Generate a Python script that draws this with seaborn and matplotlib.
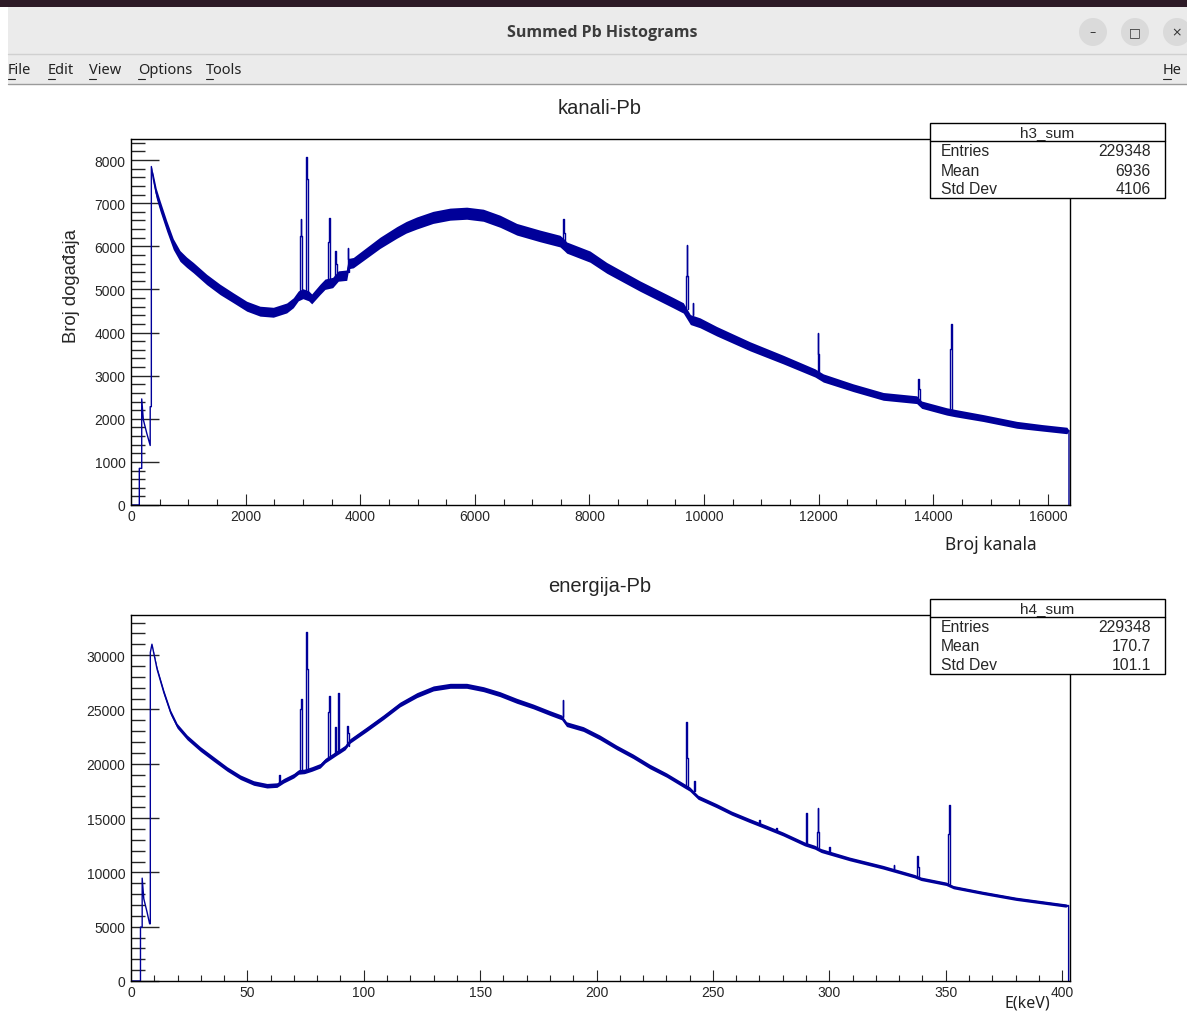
import numpy as np
import pandas as pd
import matplotlib
matplotlib.use("Agg")
import matplotlib.pyplot as plt
import seaborn as sns
from matplotlib.patches import Rectangle, Ellipse
from matplotlib.lines import Line2D
from matplotlib.ticker import MultipleLocator

# ---------------- data ----------------
# h3_sum : "kanali-Pb" (counts per channel), continuum points
kan_ch = [0, 145, 145, 187, 187, 215, 274, 335, 335, 355, 355, 390, 440, 506, 623, 738, 855,
          970, 1087, 1321, 1553, 1785, 2019, 2251, 2483, 2717, 2832, 2919, 3000, 3100, 3153,
          3298, 3385, 3519, 3617, 3764, 3800, 3879, 4112, 4345, 4636, 4800, 4985, 5270, 5566,
          5857, 6147, 6440, 6730, 7136, 7485, 7560, 7602, 8009, 8300, 8881, 9462, 9637, 9760,
          9928, 10219, 10799, 11381, 11934, 12079, 12600, 13126, 13709, 13796, 14232, 14377,
          14871, 15454, 15900, 16330, 16366, 16366]
kan_counts = [0, 0, 850, 850, 2460, 1980, 1670, 1380, 2280, 2280, 7850, 7560, 7230, 6940, 6470,
              6050, 5775, 5630, 5505, 5230, 5000, 4805, 4610, 4495, 4470, 4570, 4690, 4850, 4900,
              4850, 4780, 5000, 5120, 5160, 5310, 5330, 5600, 5620, 5850, 6080, 6320, 6440, 6540,
              6670, 6745, 6767, 6720, 6580, 6395, 6240, 6120, 6030, 5970, 5760, 5500, 5077, 4690,
              4570, 4300, 4225, 4030, 3681, 3372, 3063, 2946, 2720, 2519, 2442, 2326, 2170, 2132,
              2016, 1860, 1790, 1728, 1728, 0]
# half thickness of the noisy band around the continuum
kan_spread = [0, 0, 0, 0, 0, 0, 0, 0, 0, 0, 0, 100, 115, 125, 125, 125, 125, 120, 120, 120, 120,
              115, 115, 115, 115, 115, 115, 115, 115, 115, 115, 120, 120, 120, 120, 120, 120, 120,
              125, 130, 135, 135, 140, 140, 140, 140, 140, 140, 135, 135, 135, 135, 130, 130, 125,
              120, 120, 120, 115, 115, 110, 105, 100, 95, 95, 90, 90, 90, 85, 85, 85, 80, 80,
              75, 75, 0, 0]
# narrow peaks: start channel, base level, bin heights
kan_pk_start = [2950, 3045, 3440, 3565, 3780, 7545, 9685, 9800, 11980, 13735, 14295]
kan_pk_base = [4900, 4900, 5130, 5250, 5400, 6050, 4540, 4400, 3050, 2430, 2160]
kan_pk_heights = [[6250, 6630, 6250], [7550, 8080, 7550, 5300], [6100, 6650, 6400], [5890, 5600],
                  [5970, 5700], [6644, 6300], [5300, 6030, 5300], [4690], [3993, 3500],
                  [2930, 2700], [3610, 4202, 3610]]
kan_pk_w = 12

# h4_sum : "energija-Pb" (counts per energy bin), continuum points
en_kev = [0, 4.07, 4.07, 4.8, 4.8, 5.5, 6.9, 8.0, 8.3, 8.3, 9.0, 11.2, 14.1, 17.0, 19.8, 24.1,
          29.8, 35.5, 41.3, 47.0, 52.7, 58.4, 62.7, 65.6, 69.9, 72.0, 74.5, 77.7, 81.3, 83.5,
          86.6, 88.4, 89.9, 92.0, 94.2, 101.4, 108.5, 115.5, 122.8, 129.9, 137.1, 144.2, 151.4,
          158.5, 165.7, 172.8, 180.0, 185.0, 187.1, 194.3, 201.4, 208.6, 215.7, 222.9, 230.0,
          237.2, 240.0, 243.6, 251.5, 258.0, 265.8, 273.0, 280.1, 289.4, 293.7, 296.5, 308.7,
          323.0, 336.6, 339.4, 350.2, 353.3, 365.8, 380.2, 401.6, 402.8, 402.8]
en_counts = [0, 0, 4960, 4960, 9470, 7570, 6340, 5270, 5270, 30250, 31010, 28710, 26570, 24730,
             23500, 22430, 21360, 20440, 19520, 18760, 18230, 17980, 18040, 18440, 18900, 19250,
             19300, 19520, 19820, 20300, 20740, 21000, 21200, 21500, 22120, 23200, 24300, 25450,
             26320, 26940, 27180, 27180, 26870, 26410, 25800, 25280, 24670, 24270, 23650, 23200,
             22430, 21510, 20690, 19750, 18970, 18040, 17680, 16920, 16150, 15460, 14770, 14160,
             13540, 12620, 12320, 12010, 11240, 10480, 9650, 9410, 8950, 8640, 8120, 7570, 6950,
             6950, 0]
en_spread = [0, 0, 0, 0, 0, 0, 0, 0, 0, 0, 0, 180, 220, 220, 220, 220, 220, 220, 210, 210, 210,
             210, 210, 210, 210, 210, 210, 210, 210, 210, 210, 210, 210, 210, 210, 220, 220, 220,
             230, 230, 230, 230, 230, 230, 230, 220, 220, 220, 220, 220, 220, 210, 210, 210, 200,
             200, 200, 190, 190, 185, 185, 185, 180, 180, 180, 180, 170, 170, 160, 160, 160, 150,
             150, 150, 150, 0, 0]
en_pk_start = [63.6, 72.7, 75.0, 84.7, 87.6, 88.9, 93.0, 185.5, 238.3, 241.8, 269.9, 277.1,
               290.0, 294.7, 299.9, 327.6, 337.8, 351.1]
en_pk_base = [18100, 19300, 19300, 20500, 20900, 21100, 21600, 24270, 18000, 17500, 14400,
              13800, 12600, 12300, 11800, 10350, 9600, 8900]
en_pk_heights = [[18970], [25030, 25960, 21000], [29930, 32140, 28710], [24800, 26200, 25500],
                 [23350], [26500, 22000], [23500, 22800], [25890], [20500, 23810, 20500],
                 [18390], [14860], [14100], [15470], [13700, 15900, 13700], [12320], [10720],
                 [11550, 10500], [13540, 16210, 13540]]
en_pk_w = 0.3

stats_h3 = ["h3_sum", "229348", "6936", "4106"]
stats_h4 = ["h4_sum", "229348", "170.7", "101.1"]
stat_names = ["Entries", "Mean", "Std Dev"]

menu_items = ["File", "Edit", "View", "Options", "Tools"]
menu_x = [8, 48, 89, 138, 206]

BLUE = "#000099"
W, H = 1187, 1012

sns.set_style("white")
plt.rcParams["font.family"] = ["Liberation Sans", "DejaVu Sans"]

fig = plt.figure(figsize=(W / 100, H / 100), dpi=100)


def fx(x):
    return x / W


def fy(y):
    return 1 - y / H


def draw_hist(ax, xs, ys, spread, pk_start, pk_base, pk_heights, pk_w):
    rows = [("bg", x, y) for x, y in zip(xs, ys)]
    for i, (s, b, hs) in enumerate(zip(pk_start, pk_base, pk_heights)):
        seg = f"pk{i}"
        rows.append((seg, s, b))
        for j, h in enumerate(hs):
            rows.append((seg, s + j * pk_w, h))
            rows.append((seg, s + (j + 1) * pk_w, h))
        rows.append((seg, s + len(hs) * pk_w, b))
    df = pd.DataFrame(rows, columns=["seg", "x", "y"])
    sns.lineplot(data=df, x="x", y="y", units="seg", estimator=None, sort=False,
                 color=BLUE, linewidth=1.0, ax=ax, legend=False)
    yv = np.array(ys, dtype=float)
    sp = np.array(spread, dtype=float)
    ax.fill_between(xs, yv - sp, yv + sp, color=BLUE, linewidth=0)
    ax.set_xlabel("")
    ax.set_ylabel("")


def style_axes(ax, xmaj, xmin, ymaj, ymin):
    ax.xaxis.set_major_locator(MultipleLocator(xmaj))
    ax.xaxis.set_minor_locator(MultipleLocator(xmin))
    ax.yaxis.set_major_locator(MultipleLocator(ymaj))
    ax.yaxis.set_minor_locator(MultipleLocator(ymin))
    ax.tick_params(axis="y", which="major", direction="in", length=20, width=1,
                   pad=4, labelsize=10, left=True)
    ax.tick_params(axis="y", which="minor", direction="in", length=10, width=1, left=True)
    ax.tick_params(axis="x", which="major", direction="in", length=8, width=0.8,
                   pad=3, labelsize=10, bottom=True)
    ax.tick_params(axis="x", which="minor", direction="in", length=4, width=0.8, bottom=True)
    for s in ax.spines.values():
        s.set_color("black")
        s.set_linewidth(1)


# ---------------- top pad: kanali-Pb ----------------
ax1 = fig.add_axes([fx(131), fy(506), fx(1070) - fx(131), fy(140) - fy(506)])
draw_hist(ax1, kan_ch, kan_counts, kan_spread, kan_pk_start, kan_pk_base, kan_pk_heights, kan_pk_w)
ax1.set_xlim(0, 16384)
ax1.set_ylim(0, 8488)
style_axes(ax1, 2000, 500, 1000, 200)

# ---------------- bottom pad: energija-Pb ----------------
ax2 = fig.add_axes([fx(131), fy(982), fx(1070) - fx(131), fy(616) - fy(982)])
draw_hist(ax2, en_kev, en_counts, en_spread, en_pk_start, en_pk_base, en_pk_heights, en_pk_w)
ax2.set_xlim(0, 403.4)
ax2.set_ylim(0, 33700)
style_axes(ax2, 50, 10, 5000, 1000)

# titles and axis titles
fig.text(fx(600), fy(109), "kanali-Pb", ha="center", va="center", fontsize=14.5)
fig.text(fx(600), fy(586), "energija-Pb", ha="center", va="center", fontsize=14.5)
fig.text(fx(72), fy(286), "Broj događaja", rotation=90, ha="center", va="center", fontsize=13.3)
fig.text(fx(991), fy(545), "Broj kanala", ha="center", va="center", fontsize=12.5,
         family=["Noto Sans", "DejaVu Sans"], color="#222222")
fig.text(fx(1027), fy(1004), "E(keV)", ha="center", va="center", fontsize=11.5,
         family=["Noto Sans", "DejaVu Sans"], color="#222222")


# stats boxes
def stats_box(top, vals):
    fig.add_artist(Rectangle((fx(930), fy(top + 75)), fx(1165) - fx(930), fy(top) - fy(top + 75),
                             transform=fig.transFigure, facecolor="white", edgecolor="black",
                             linewidth=1, zorder=5))
    fig.add_artist(Line2D([fx(930), fx(1165)], [fy(top + 18), fy(top + 18)],
                          transform=fig.transFigure, color="black", linewidth=1, zorder=6))
    fig.text(fx(1047), fy(top + 9), vals[0], ha="center", va="center", fontsize=11, zorder=7)
    for k, name in enumerate(stat_names):
        yy = fy(top + 28 + 19 * k)
        fig.text(fx(941), yy, name, ha="left", va="center", fontsize=11.3, zorder=7)
        fig.text(fx(1151), yy, vals[k + 1], ha="right", va="center", fontsize=11.3, zorder=7)


stats_box(124, stats_h3)
stats_box(600, stats_h4)

# ---------------- window chrome ----------------
fig.add_artist(Rectangle((0, fy(8)), 1, fy(0) - fy(8), transform=fig.transFigure,
                         facecolor="#2d1a26", edgecolor="none", zorder=2))
fig.add_artist(Rectangle((fx(8), fy(85)), 1 - fx(8), fy(8) - fy(85), transform=fig.transFigure,
                         facecolor="#ebebeb", edgecolor="none", zorder=2))
fig.add_artist(Line2D([fx(8), 1], [fy(55), fy(55)], transform=fig.transFigure,
                      color="#d0d0d0", linewidth=1, zorder=3))
fig.add_artist(Line2D([fx(8), 1], [fy(85), fy(85)], transform=fig.transFigure,
                      color="#9a9a9a", linewidth=1, zorder=3))
fig.text(fx(602), fy(33), "Summed Pb Histograms", ha="center", va="center", fontsize=11.5,
         fontweight="bold", color="#3c3c3c", family=["Open Sans", "DejaVu Sans"], zorder=4)
for bx, sym in zip([1093, 1135, 1177], ["–", "□", "×"]):
    fig.add_artist(Ellipse((fx(bx), fy(33)), 28 / W, 28 / H, transform=fig.transFigure,
                           facecolor="#dadada", edgecolor="none", zorder=3))
    fig.text(fx(bx), fy(33), sym, ha="center", va="center", fontsize=9, color="#333333",
             family=["DejaVu Sans"], zorder=4)
for mx, item in zip(menu_x, menu_items):
    fig.text(fx(mx), fy(71), item, ha="left", va="center", fontsize=10.5, color="#222222",
             family=["Noto Sans", "DejaVu Sans"], zorder=4)
    fig.add_artist(Line2D([fx(mx), fx(mx + 7)], [fy(80), fy(80)], transform=fig.transFigure,
                          color="#222222", linewidth=0.8, zorder=4))
fig.text(fx(1163), fy(71), "He", ha="left", va="center", fontsize=10.5, color="#222222",
         family=["Noto Sans", "DejaVu Sans"], zorder=4)
fig.add_artist(Line2D([fx(1163), fx(1171)], [fy(80), fy(80)], transform=fig.transFigure,
                      color="#222222", linewidth=0.8, zorder=4))

fig.savefig("out.png", dpi=100)
